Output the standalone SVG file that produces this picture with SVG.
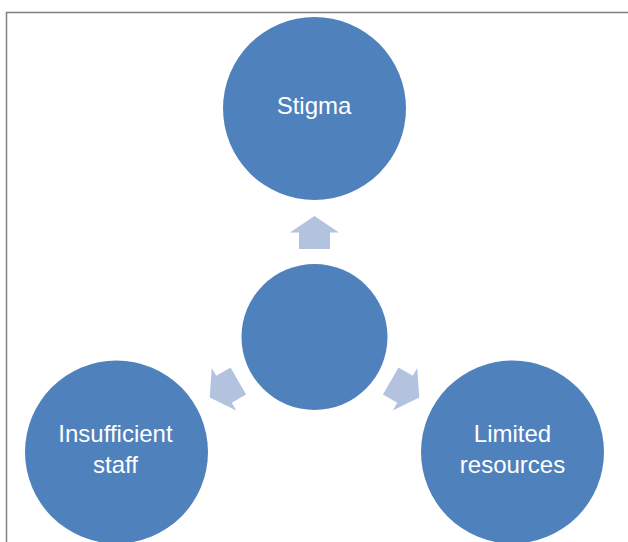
<svg xmlns="http://www.w3.org/2000/svg" width="628" height="542" viewBox="0 0 628 542">
  <style>
    .node { fill: #4F81BD; }
    .lbl { font-family: "Liberation Sans", Arial, sans-serif; font-size: 24px; fill: #FFFFFF; text-anchor: middle; }
    .arrow { fill: #B3C3DF; }
    .frame { stroke: #808080; stroke-width: 1.5; fill: none; }
  </style>
  <defs>
    <polygon id="arr" class="arrow" points="0,-121 24.5,-104.5 15.5,-104.5 15.5,-88 -15.5,-88 -15.5,-104.5 -24.5,-104.5"/>
  </defs>
  <rect x="0" y="0" width="628" height="542" fill="#FFFFFF"/>
  <path class="frame" d="M6.5,542 V12.5 H628"/>
  <g id="connectors" transform="translate(314.5,337)">
    <use href="#arr"/>
    <use href="#arr" transform="rotate(120)"/>
    <use href="#arr" transform="rotate(240)"/>
  </g>
  <g id="center">
    <circle class="node" cx="314.5" cy="337" r="73"/>
  </g>
  <g id="stigma">
    <circle class="node" cx="314.5" cy="108.5" r="91.5"/>
    <text class="lbl" x="314" y="114">Stigma</text>
  </g>
  <g id="insufficient-staff">
    <circle class="node" cx="116.5" cy="452" r="91.5"/>
    <text class="lbl" x="115.5" y="442">Insufficient</text>
    <text class="lbl" x="115.5" y="473">staff</text>
  </g>
  <g id="limited-resources">
    <circle class="node" cx="512.5" cy="452" r="91.5"/>
    <text class="lbl" x="512.5" y="442">Limited</text>
    <text class="lbl" x="512.5" y="473">resources</text>
  </g>
</svg>
